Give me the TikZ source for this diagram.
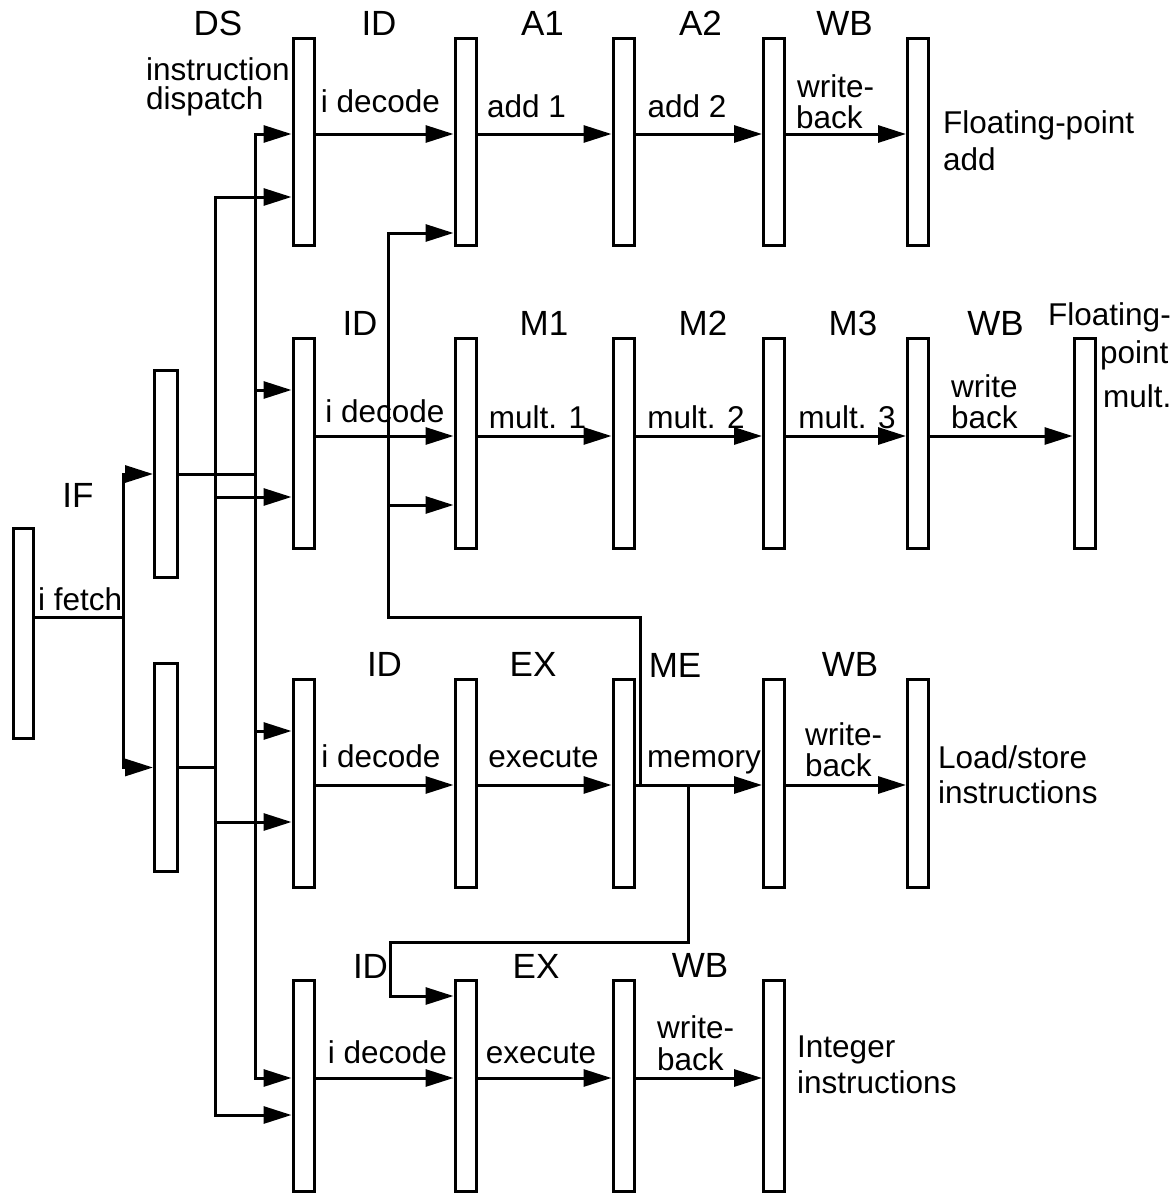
\documentclass[tikz,border=0pt]{standalone}
\usepackage{fontspec}
\setmainfont{Liberation Sans}
\usetikzlibrary{arrows.meta}
\begin{document}
\begin{tikzpicture}[x=1pt,y=-1pt,
  reg/.style={draw, line width=3pt, inner sep=0pt, minimum width=21pt},
  ln/.style={line width=3pt},
  ar/.style={line width=3pt, -{Triangle[length=28pt,width=17pt]}},
  hd/.style={inner sep=0pt, font=\fontsize{35}{35}\selectfont, anchor=base},
  lb/.style={inner sep=0pt, font=\fontsize{31.5}{31.5}\selectfont, anchor=base},
  lbl/.style={lb, anchor=base west}]
\useasboundingbox (0,0) rectangle (1173,1195);

% ---- registers ----
\node[reg, minimum height=210pt, minimum width=20pt] (fetch) at (23.5,633.5) {};
\node[reg, minimum height=207pt, minimum width=23pt] (IFt) at (166,474) {};
\node[reg, minimum height=208pt, minimum width=23pt] (IFb) at (166,767.5) {};

\foreach \n/\x in {a/303.5,b/465.5,c/623.5,d/774,e/918}
  \node[reg, minimum height=207pt] (r1\n) at (\x,142) {};
\foreach \n/\x in {a/303.5,b/465.5,c/623.5,d/774,e/918,f/1084.5}
  \node[reg, minimum height=210pt] (r2\n) at (\x,443.5) {};
\foreach \n/\x in {a/303.5,b/465.5,c/623.5,d/774,e/918}
  \node[reg, minimum height=208pt] (r3\n) at (\x,783.5) {};
\foreach \n/\x in {a/303.5,b/465.5,c/623.5,d/774}
  \node[reg, minimum height=211pt] (r4\n) at (\x,1086) {};

% ---- pipeline arrows ----
\coordinate (y1) at (0,134);
\coordinate (y2) at (0,436);
\coordinate (y3) at (0,785);
\coordinate (y4) at (0,1078);
\foreach \p/\q in {a/b,b/c,c/d,d/e}
  \draw[ar] (r1\p.east |- y1) -- (r1\q.west |- y1);
\foreach \p/\q in {a/b,b/c,c/d,d/e,e/f}
  \draw[ar] (r2\p.east |- y2) -- (r2\q.west |- y2);
\foreach \p/\q in {a/b,b/c,c/d,d/e}
  \draw[ar] (r3\p.east |- y3) -- (r3\q.west |- y3);
\foreach \p/\q in {a/b,b/c,c/d}
  \draw[ar] (r4\p.east |- y4) -- (r4\q.west |- y4);

% ---- fetch ----
\coordinate (F) at (123,617);
\draw[ln] (fetch.east |- F) -- (F);
\draw[ar] (F) -- (F |- IFt) -- (IFt.west);
\draw[ar] (F) -- (F |- IFb) -- (IFb.west);

% ---- dispatch buses ----
\coordinate (B1) at (255,134);
\coordinate (B2) at (255,390);
\coordinate (B3) at (255,731);
\coordinate (B4) at (255,1078);
\coordinate (A1) at (215,197);
\coordinate (A2) at (215,497);
\coordinate (A3) at (215,822);
\coordinate (A4) at (215,1115);
\draw[ln] (IFt.east) -- (IFt.east -| B1);
\draw[ln] (IFb.east) -- (IFb.east -| A1);
\draw[ar] (B2) -- (B1) -- (r1a.west |- B1);
\draw[ar] (B2) -- (B4) -- (r4a.west |- B4);
\draw[ar] (B2) -- (r2a.west |- B2);
\draw[ar] (B3) -- (r3a.west |- B3);
\draw[ar] (A2) -- (A1) -- (r1a.west |- A1);
\draw[ar] (A2) -- (A4) -- (r4a.west |- A4);
\draw[ar] (A2) -- (r2a.west |- A2);
\draw[ar] (A3) -- (r3a.west |- A3);

% ---- forwarding paths ----
\coordinate (fw) at (640,617);
\coordinate (fx) at (388,617);
\coordinate (fa) at (388,233);
\coordinate (fb) at (388,505);
\draw[ar] (fw |- y3) -- (fw) -- (fx) -- (fa) -- (r1b.west |- fa);
\draw[ar] (fb) -- (r2b.west |- fb);
\coordinate (gw) at (688,942);
\coordinate (gx) at (390,942);
\coordinate (gy) at (390,996);
\draw[ar] (gw |- y3) -- (gw) -- (gx) -- (gy) -- (r4b.west |- gy);

% ---- headers ----
\node[hd] (hDS) at (218,35) {DS};
\node[hd] (hID1) at (379,35) {ID};
\node[hd] (hA1) at (542.5,35) {A1};
\node[hd] (hA2) at (700.5,35) {A2};
\node[hd] (hWB1) at (844.5,35) {WB};
\node[hd] (hID2) at (360,335) {ID};
\node[hd] (hM1) at (544,335) {M1};
\node[hd] (hM2) at (703,335) {M2};
\node[hd] (hM3) at (853,335) {M3};
\node[hd] (hWB2) at (995.5,335) {WB};
\node[hd] (hID3) at (384.5,676) {ID};
\node[hd] (hEX3) at (533,676) {EX};
\node[hd] (hME) at (675,677) {ME};
\node[hd] (hWB3) at (850,676) {WB};
\node[hd] (hID4) at (370.5,978) {ID};
\node[hd] (hEX4) at (536,978) {EX};
\node[hd] (hWB4) at (700,977) {WB};
\node[hd] (hIF) at (78,507) {IF};

% ---- labels ----
\node[lbl] (tfetch) at (38,610) {i fetch};
\node[lbl] (tdis1) at (146,80) {instruction};
\node[lbl] (tdis2) at (146,109) {dispatch};
\node[lb] (tdec1) at (380.5,112) {i decode};
\node[lb] (tadd1) at (526.5,117) {add 1};
\node[lb] (tadd2) at (687,117) {add 2};
\node[lbl] (twb1a) at (797,97) {write-};
\node[lbl] (twb1b) at (796,128) {back};
\node[lbl] (tfpa1) at (943,133) {Floating-point};
\node[lbl] (tfpa2) at (943,170) {add};

\node[lb] (tdec2) at (385,422) {i decode};
\node[lb] (tm1) at (537.5,428) {mult. 1};
\node[lb] (tm2) at (696,428) {mult. 2};
\node[lb] (tm3) at (847,428) {mult. 3};
\node[lbl] (twb2a) at (951,397) {write};
\node[lbl] (twb2b) at (951,428) {back};
\node[lbl] (tfpm1) at (1048,325) {Floating-};
\node[lbl] (tfpm2) at (1100,363) {point};
\node[lbl] (tfpm3) at (1103,407) {mult.};

\node[lb] (tdec3) at (381,767) {i decode};
\node[lb] (tex3) at (543.5,767) {execute};
\node[lbl] (tmem) at (647,767) {memory};
\node[lbl] (twb3a) at (805,745) {write-};
\node[lbl] (twb3b) at (805,776) {back};
\node[lbl] (tls1) at (938,768) {Load/store};
\node[lbl] (tls2) at (938,803) {instructions};

\node[lb] (tdec4) at (387.5,1063) {i decode};
\node[lb] (tex4) at (541,1063) {execute};
\node[lbl] (twb4a) at (657,1038) {write-};
\node[lbl] (twb4b) at (657,1070) {back};
\node[lbl] (tint1) at (797,1057) {Integer};
\node[lbl] (tint2) at (797,1093) {instructions};
\end{tikzpicture}
\end{document}
